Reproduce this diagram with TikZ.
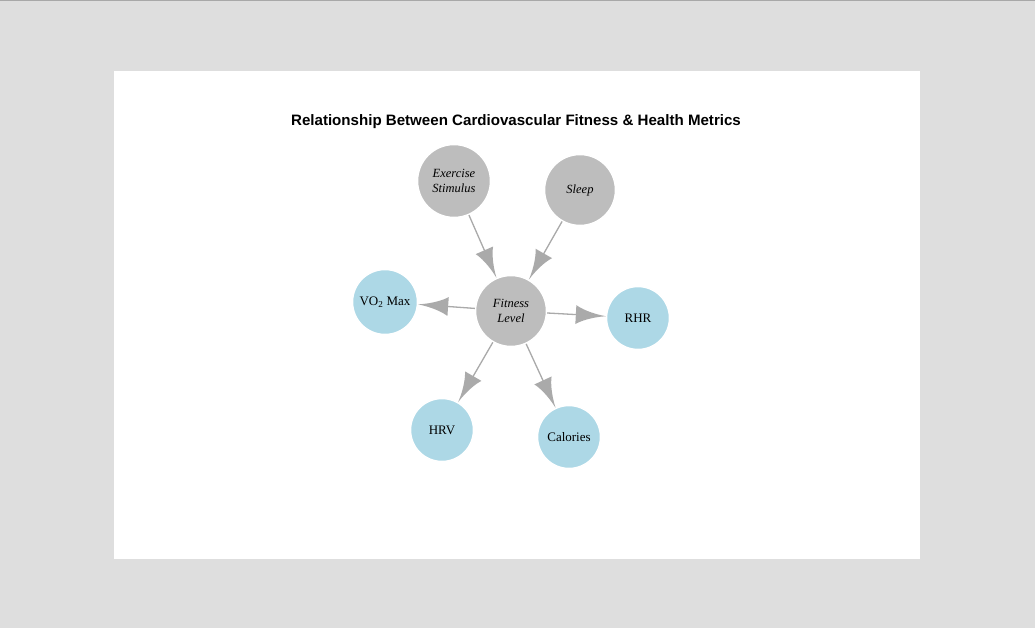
\documentclass[tikz,border=0pt]{standalone}
\usepackage{fontspec}
\setmainfont{Liberation Serif}
\newfontfamily\titlefont{Liberation Sans}
\usetikzlibrary{arrows.meta}
\definecolor{pagebg}{HTML}{DEDEDE}
\definecolor{topline}{HTML}{A8A8A8}
\definecolor{graynode}{HTML}{BDBDBD}
\definecolor{bluenode}{HTML}{ADD8E6}
\definecolor{edgecol}{HTML}{AAAAAA}
\pgfdeclarearrow{
  name=Concave,
  parameters={\the\pgfarrowlength,\the\pgfarrowwidth},
  setup code={
    \pgfarrowssettipend{0pt}
    \pgfarrowssetlineend{-.7\pgfarrowlength}
    \pgfarrowssetvisualbackend{-\pgfarrowlength}
    \pgfarrowssetbackend{-\pgfarrowlength}
    \pgfarrowshullpoint{0pt}{0pt}
    \pgfarrowsupperhullpoint{-\pgfarrowlength}{.5\pgfarrowwidth}
    \pgfarrowssavethe\pgfarrowlength
    \pgfarrowssavethe\pgfarrowwidth
  },
  drawing code={
    \pgfpathmoveto{\pgfqpoint{0pt}{0pt}}
    \pgfpathcurveto{\pgfqpoint{-.5\pgfarrowlength}{.1\pgfarrowwidth}}{\pgfqpoint{-.85\pgfarrowlength}{.34\pgfarrowwidth}}{\pgfqpoint{-\pgfarrowlength}{.5\pgfarrowwidth}}
    \pgfpathlineto{\pgfqpoint{-\pgfarrowlength}{-.5\pgfarrowwidth}}
    \pgfpathcurveto{\pgfqpoint{-.85\pgfarrowlength}{-.34\pgfarrowwidth}}{\pgfqpoint{-.5\pgfarrowlength}{-.1\pgfarrowwidth}}{\pgfqpoint{0pt}{0pt}}
    \pgfpathclose
    \pgfusepathqfill
  },
  defaults={length=30pt,width=19pt}
}
\tikzset{
  gnode/.style={circle, fill=graynode, draw=white, line width=1.5pt, inner sep=0pt, align=center, font=\fontsize{12.5}{14.5}\selectfont\itshape},
  bnode/.style={circle, fill=bluenode, draw=white, line width=1.5pt, inner sep=0pt, align=center, font=\fontsize{13}{14}\selectfont},
  edge/.style={draw=edgecol, line width=1.3pt, -{Concave[length=30pt,width=19pt]}, fill=edgecol},
}
\begin{document}
\begin{tikzpicture}[x=1pt,y=-1pt]
\fill[pagebg] (0,0) rectangle (1035,628);
\useasboundingbox (0,0) rectangle (1035,628);
\fill[topline] (0,0) rectangle (1035,1.5);
\fill[white] (114,71) rectangle (920,559);
\node[font=\titlefont\fontsize{15.1}{18}\selectfont\bfseries] (title) at (516,121.5) {Relationship Between Cardiovascular Fitness \& Health Metrics};
\node[gnode, minimum size=73pt] (ex) at (454,181) {Exercise\\Stimulus};
\node[gnode, minimum size=71pt] (sl) at (580,190) {Sleep};
\node[gnode, minimum size=71pt] (fit) at (511,311) {Fitness\\Level};
\node[bnode, minimum size=65pt] (vo) at (385,302) {VO\textsubscript{2} Max};
\node[bnode, minimum size=63pt] (rhr) at (638,318) {RHR};
\node[bnode, minimum size=63pt] (hrv) at (442,430) {HRV};
\node[bnode, minimum size=63pt] (cal) at (569,437) {Calories};
\draw[edge] (ex) -- (fit);
\draw[edge] (sl) -- (fit);
\draw[edge] (fit) -- (vo);
\draw[edge] (fit) -- (rhr);
\draw[edge] (fit) -- (hrv);
\draw[edge] (fit) -- (cal);
\end{tikzpicture}
\end{document}
